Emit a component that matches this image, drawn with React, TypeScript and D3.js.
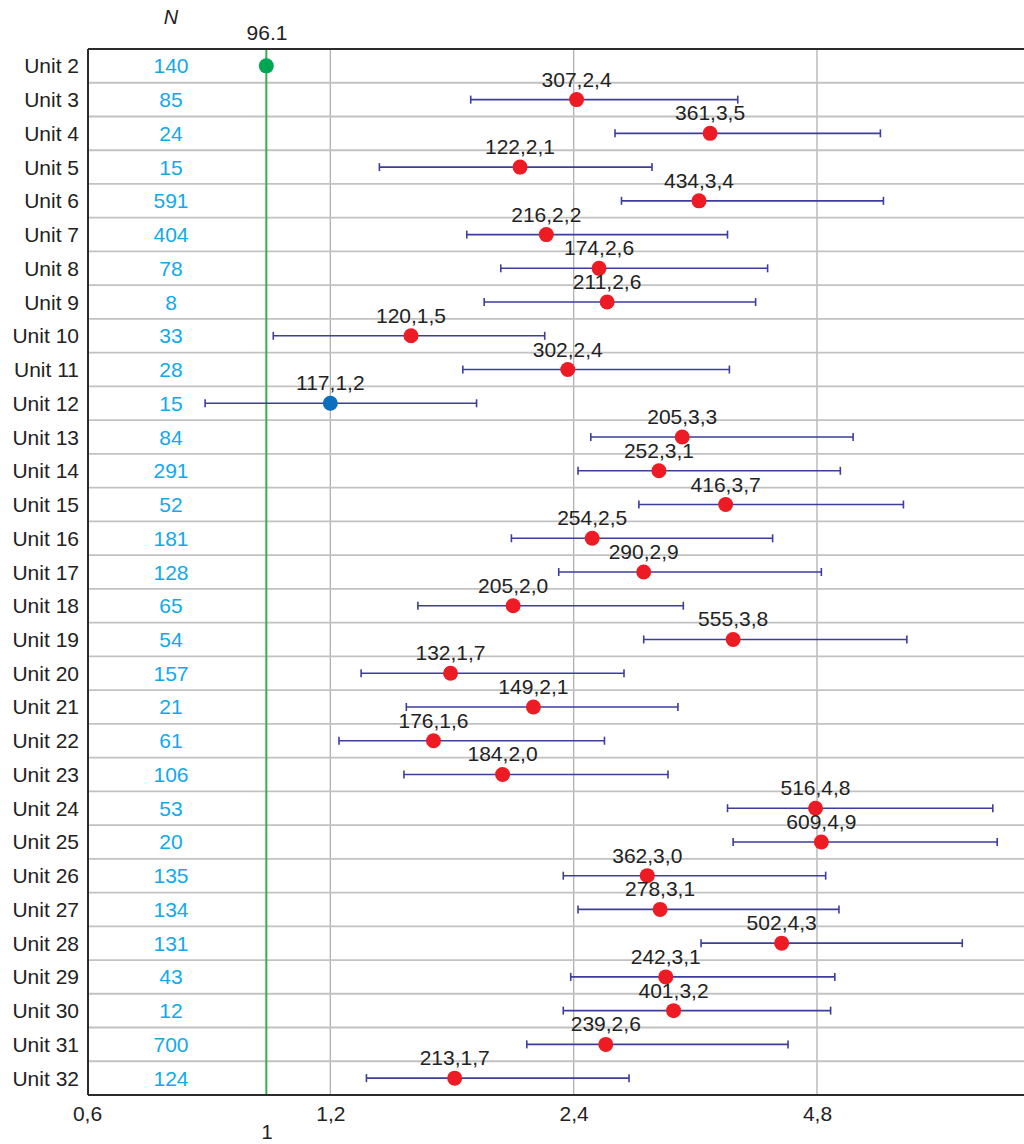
import React, { useEffect, useRef } from 'react';
import { select, scaleLog, scaleBand, axisBottom, format } from 'd3';

const units = ['Unit 2', 'Unit 3', 'Unit 4', 'Unit 5', 'Unit 6', 'Unit 7', 'Unit 8', 'Unit 9', 'Unit 10', 'Unit 11',
  'Unit 12', 'Unit 13', 'Unit 14', 'Unit 15', 'Unit 16', 'Unit 17', 'Unit 18', 'Unit 19', 'Unit 20', 'Unit 21',
  'Unit 22', 'Unit 23', 'Unit 24', 'Unit 25', 'Unit 26', 'Unit 27', 'Unit 28', 'Unit 29', 'Unit 30', 'Unit 31', 'Unit 32'];
const nValues = [140, 85, 24, 15, 591, 404, 78, 8, 33, 28, 15, 84, 291, 52, 181, 128, 65, 54, 157, 21,
  61, 106, 53, 20, 135, 134, 131, 43, 12, 700, 124];
const events = [null, 307, 361, 122, 434, 216, 174, 211, 120, 302, 117, 205, 252, 416, 254, 290, 205, 555, 132, 149,
  176, 184, 516, 609, 362, 278, 502, 242, 401, 239, 213];
const ratios = [1.0, 2.42, 3.54, 2.06, 3.43, 2.22, 2.58, 2.64, 1.51, 2.36, 1.20, 3.27, 3.06, 3.70, 2.53, 2.93, 2.02, 3.78, 1.69, 2.14,
  1.61, 1.96, 4.78, 4.86, 2.96, 3.07, 4.34, 3.12, 3.19, 2.63, 1.71];
const lower = [null, 1.79, 2.70, 1.38, 2.75, 1.77, 1.95, 1.86, 1.02, 1.75, 0.84, 2.52, 2.43, 2.89, 2.01, 2.30, 1.54, 2.93, 1.31, 1.49,
  1.23, 1.48, 3.72, 3.78, 2.33, 2.43, 3.45, 2.38, 2.33, 2.10, 1.33];
const upper = [null, 3.83, 5.75, 3.00, 5.80, 3.72, 4.17, 4.03, 2.21, 3.74, 1.82, 5.32, 5.13, 6.14, 4.23, 4.86, 3.28, 6.20, 2.77, 3.23,
  2.62, 3.14, 7.92, 8.02, 4.92, 5.11, 7.26, 5.05, 4.99, 4.42, 2.81];
const xTicks = [0.6, 1.2, 2.4, 4.8];
const refValue = 1;
const refLabel = '96.1';

const FONT = '"Liberation Sans", Arial, sans-serif';

const App = () => {
  const svgRef = useRef(null);
  const width = 1024;
  const height = 1144;

  useEffect(() => {
    const svg = select(svgRef.current);
    const left = 88, top = 49, bottom = 1095, right = width;

    const data = units.map((u, i) => ({
      unit: u, n: nValues[i], events: events[i], ratio: ratios[i], lo: lower[i], hi: upper[i],
    }));

    const x = scaleLog().domain([0.6, 4.8]).range([87, 817]);
    const y = scaleBand().domain(units).range([top, bottom]).padding(0);
    const cy = d => y(d.unit) + y.bandwidth() / 2;
    const fmt = format('.1f');

    // grid
    svg.select('.grid')
      .selectAll('.vgrid')
      .data(xTicks.slice(1))
      .join('line')
      .attr('class', 'vgrid')
      .attr('x1', d => x(d)).attr('x2', d => x(d))
      .attr('y1', top).attr('y2', bottom)
      .attr('stroke', '#b0b0b0').attr('stroke-width', 1.3);

    svg.select('.grid')
      .selectAll('.hgrid')
      .data(units.slice(1))
      .join('line')
      .attr('class', 'hgrid')
      .attr('x1', left).attr('x2', right)
      .attr('y1', d => y(d)).attr('y2', d => y(d))
      .attr('stroke', '#c2c2c2').attr('stroke-width', 1.8);

    // reference line
    svg.select('.ref')
      .selectAll('line')
      .data([refValue])
      .join('line')
      .attr('x1', d => x(d)).attr('x2', d => x(d))
      .attr('y1', top).attr('y2', bottom)
      .attr('stroke', '#2fb24c').attr('stroke-width', 2);

    // frame
    const frame = svg.select('.frame');
    frame.selectAll('line')
      .data([[left, top, right, top], [left, bottom, right, bottom], [left, top, left, bottom]])
      .join('line')
      .attr('x1', d => d[0]).attr('y1', d => d[1]).attr('x2', d => d[2]).attr('y2', d => d[3])
      .attr('stroke', '#2b2b2b').attr('stroke-width', 2);

    // unit labels + N
    svg.select('.labels')
      .selectAll('.unit')
      .data(data)
      .join('text')
      .attr('class', 'unit')
      .attr('x', 79).attr('y', d => cy(d) + 7.5)
      .attr('text-anchor', 'end')
      .attr('font-size', 21).attr('fill', '#222')
      .text(d => d.unit);

    svg.select('.labels')
      .selectAll('.nval')
      .data(data)
      .join('text')
      .attr('class', 'nval')
      .attr('x', 171).attr('y', d => cy(d) + 7.5)
      .attr('text-anchor', 'middle')
      .attr('font-size', 21).attr('fill', '#11a9ec')
      .text(d => d.n);

    // CI bars
    const ci = data.filter(d => d.lo != null);
    const bars = svg.select('.ci');
    bars.selectAll('.ci-line')
      .data(ci)
      .join('line')
      .attr('class', 'ci-line')
      .attr('x1', d => x(d.lo)).attr('x2', d => x(d.hi))
      .attr('y1', cy).attr('y2', cy)
      .attr('stroke', '#3d3d9e').attr('stroke-width', 1.6);
    bars.selectAll('.cap-lo')
      .data(ci)
      .join('line')
      .attr('class', 'cap-lo')
      .attr('x1', d => x(d.lo)).attr('x2', d => x(d.lo))
      .attr('y1', d => cy(d) - 4).attr('y2', d => cy(d) + 4)
      .attr('stroke', '#3d3d9e').attr('stroke-width', 1.6);
    bars.selectAll('.cap-hi')
      .data(ci)
      .join('line')
      .attr('class', 'cap-hi')
      .attr('x1', d => x(d.hi)).attr('x2', d => x(d.hi))
      .attr('y1', d => cy(d) - 4).attr('y2', d => cy(d) + 4)
      .attr('stroke', '#3d3d9e').attr('stroke-width', 1.6);

    // points
    svg.select('.points')
      .selectAll('circle')
      .data(data)
      .join('circle')
      .attr('cx', d => x(d.ratio)).attr('cy', cy)
      .attr('r', 7.5)
      .attr('fill', d => (d.lo == null ? '#00a651' : d.lo < 1 ? '#0b6fbf' : '#ed1c24'));

    svg.select('.points')
      .selectAll('text')
      .data(ci)
      .join('text')
      .attr('x', d => x(d.ratio)).attr('y', d => cy(d) - 13)
      .attr('text-anchor', 'middle')
      .attr('font-size', 21).attr('fill', '#222')
      .text(d => `${d.events},${fmt(d.ratio).replace('.', ',')}`);

    // x axis
    const xAxis = axisBottom(x)
      .tickValues(xTicks)
      .tickFormat(d => String(d).replace('.', ','))
      .tickSize(0)
      .tickPadding(11);
    const gx = svg.select('.x-axis')
      .attr('transform', `translate(0, ${bottom})`)
      .call(xAxis);
    gx.select('.domain').remove();
    gx.selectAll('text')
      .attr('font-size', 21).attr('font-family', FONT).attr('fill', '#222');
  }, []);

  return (
    <svg ref={svgRef} width={width} height={height}
      style={{ position: 'absolute', left: 0, top: 0, background: '#fff', fontFamily: FONT }}>
      <g className="grid" />
      <g className="ref" />
      <g className="frame" />
      <g className="labels" />
      <g className="ci" />
      <g className="points" />
      <g className="x-axis" />
      <text x={171} y={24} textAnchor="middle" fontSize={20} fontStyle="italic" fill="#222">N</text>
      <text x={267} y={40} textAnchor="middle" fontSize={21} fill="#222">{refLabel}</text>
      <text x={267} y={1139} textAnchor="middle" fontSize={20} fill="#222">{refValue}</text>
    </svg>
  );
};

export default App;
